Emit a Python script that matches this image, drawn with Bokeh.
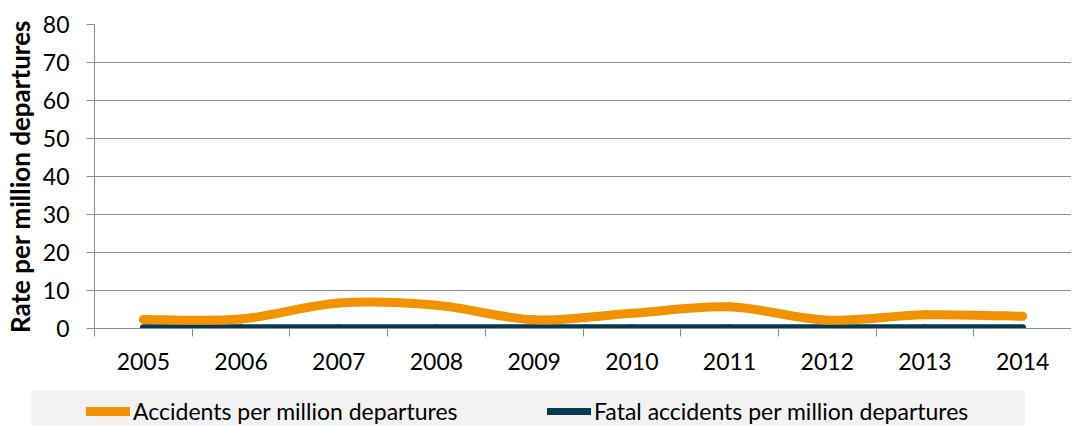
import numpy as np
from bokeh.plotting import figure
from bokeh.models import Range1d, FixedTicker, Legend, LegendItem, Spacer
from bokeh.layouts import column, row
from bokeh.embed import file_html
from bokeh.resources import INLINE

years = ["2005", "2006", "2007", "2008", "2009", "2010", "2011", "2012", "2013", "2014"]
accidents = [2.4, 2.5, 6.7, 6.1, 2.3, 4.0, 5.7, 2.2, 3.6, 3.2]
fatal = [0.2, 0.2, 0.2, 0.2, 0.2, 0.2, 0.2, 0.2, 0.2, 0.2]
y_ticks = [0, 10, 20, 30, 40, 50, 60, 70, 80]

ORANGE = "#f39200"
NAVY = "#053a51"
GRID = "#8c8c8c"
FONT = "Lato"
FS = "23px"

x = np.arange(len(years), dtype=float)


def bezier_segments(xs, ys):
    xs = np.asarray(xs, float)
    ys = np.asarray(ys, float)
    xp = np.concatenate([[xs[0]], xs, [xs[-1]]])
    yp = np.concatenate([[ys[0]], ys, [ys[-1]]])
    n = len(xs)
    x0, y0 = xs[:-1], ys[:-1]
    x1, y1 = xs[1:], ys[1:]
    cx0 = x0 + (xp[2:n + 1] - xp[0:n - 1]) / 6.0
    cy0 = y0 + (yp[2:n + 1] - yp[0:n - 1]) / 6.0
    cx1 = x1 - (xp[3:n + 2] - xp[1:n]) / 6.0
    cy1 = y1 - (yp[3:n + 2] - yp[1:n]) / 6.0
    return dict(x0=x0, y0=y0, x1=x1, y1=y1, cx0=cx0, cy0=cy0, cx1=cx1, cy1=cy1)


p = figure(width=1071, height=390, toolbar_location=None, output_backend="svg",
           x_range=Range1d(-0.5, len(years) - 0.5), y_range=Range1d(0, 80),
           min_border_top=24, min_border_right=0, min_border_left=92, min_border_bottom=62)
p.outline_line_color = None
p.xgrid.visible = False
p.ygrid.grid_line_color = GRID
p.ygrid.grid_line_width = 1
p.ygrid.ticker = FixedTicker(ticks=y_ticks)

seg_f = bezier_segments(x, fatal)
p.bezier(line_color=NAVY, line_width=7, line_cap="round", **seg_f)
seg_a = bezier_segments(x, accidents)
p.bezier(line_color=ORANGE, line_width=9, line_cap="round", **seg_a)

xa = p.xaxis[0]
xa.ticker = FixedTicker(ticks=list(x), minor_ticks=list(np.arange(-0.5, len(years), 1.0)))
xa.major_label_overrides = {i: y for i, y in enumerate(years)}
xa.major_tick_out = 0
xa.major_tick_in = 0
xa.minor_tick_out = 8
xa.minor_tick_in = 0
xa.minor_tick_line_color = GRID
xa.axis_line_color = GRID
xa.major_label_standoff = 16
xa.major_label_text_font = FONT
xa.major_label_text_font_size = FS
xa.major_label_text_color = "black"

ya = p.yaxis[0]
ya.ticker = FixedTicker(ticks=y_ticks)
ya.major_tick_out = 8
ya.major_tick_in = 0
ya.minor_tick_out = 0
ya.minor_tick_in = 0
ya.major_tick_line_color = GRID
ya.axis_line_color = GRID
ya.major_label_standoff = 17
ya.major_label_text_font = FONT
ya.major_label_text_font_size = FS
ya.major_label_text_color = "black"
ya.axis_label = "Rate per million departures"
ya.axis_label_text_font = FONT
ya.axis_label_text_font_size = "26px"
ya.axis_label_text_font_style = "bold"
ya.axis_label_text_color = "black"
ya.axis_label_standoff = 4

# legend strip (series drawn off-screen so only their legend glyphs show)
lg = figure(width=994, height=36, toolbar_location=None, output_backend="svg",
            x_range=Range1d(-0.5, len(years) - 0.5), y_range=Range1d(1000, 1001), min_border=0)
lg.axis.visible = False
lg.grid.visible = False
lg.outline_line_color = None
lg.background_fill_color = "#f2f2f2"
lg.border_fill_color = "#f2f2f2"
r1 = lg.line(x=x, y=accidents, line_color=ORANGE, line_width=9, line_cap="round")
r2 = lg.line(x=x, y=fatal, line_color=NAVY, line_width=7, line_cap="round")
legend = Legend(items=[LegendItem(label="Accidents per million departures", renderers=[r1]),
                       LegendItem(label="Fatal accidents per million departures", renderers=[r2])],
                orientation="horizontal", location=(55, 1),
                background_fill_alpha=0, border_line_color=None,
                padding=0, margin=0, glyph_width=44, glyph_height=20,
                label_height=20, label_width=340, label_standoff=3, spacing=74,
                label_text_font=FONT, label_text_font_size=FS, label_text_color="black")
lg.add_layout(legend)

layout = column(p, row(Spacer(width=31, height=36), lg), spacing=0)

open("out.html", "w").write(file_html(layout, INLINE))
